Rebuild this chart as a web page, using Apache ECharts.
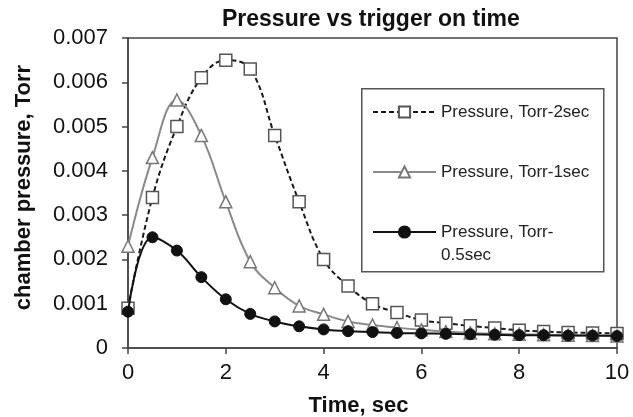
<!DOCTYPE html>
<html>
<head>
<meta charset="utf-8">
<script src="https://cdn.jsdelivr.net/npm/echarts@6/dist/echarts.min.js"></script>
<style>html,body{margin:0;padding:0;background:#fff;}#c{width:633px;height:417px;}</style>
</head>
<body>
<div id="c"></div>
<script>
var times = [0,0.5,1,1.5,2,2.5,3,3.5,4,4.5,5,5.5,6,6.5,7,7.5,8,8.5,9,9.5,10];
var p2sec = [0.0009,0.0034,0.0050,0.0061,0.0065,0.0063,0.0048,0.0033,0.0020,0.0014,0.0010,0.0008,0.00063,0.00056,0.00050,0.00045,0.00040,0.00037,0.00035,0.00034,0.00033];
var p1sec = [0.0023,0.0043,0.0056,0.0048,0.0033,0.00195,0.00136,0.00095,0.00076,0.00060,0.00052,0.00046,0.00041,0.00037,0.00034,0.00032,0.00031,0.00030,0.00029,0.00028,0.00027];
var p05sec = [0.00082,0.0025,0.0022,0.0016,0.0011,0.00077,0.00060,0.00049,0.00042,0.00038,0.00036,0.00034,0.00033,0.00032,0.00031,0.00030,0.00029,0.00029,0.00028,0.00028,0.00027];
var names = ['Pressure, Torr-2sec','Pressure, Torr-1sec','Pressure, Torr-0.5sec'];
var legendTexts = ['Pressure, Torr-2sec','Pressure, Torr-1sec','Pressure, Torr-\n0.5sec'];

function pairs(vals){ return times.map(function(t,i){ return [t, vals[i]]; }); }

var chart = echarts.init(document.getElementById('c'), null, {renderer:'canvas'});
var F = 'Liberation Sans, Arial, sans-serif';
chart.setOption({
  animation: false,
  backgroundColor: '#fff',
  title: {
    text: 'Pressure vs trigger on time',
    left: 222, top: 8, padding: 0,
    textStyle: {fontFamily: F, fontSize: 23, fontWeight: 'bold', color: '#111'}
  },
  grid: {left: 128, right: 16, top: 38, bottom: 69, show: true, borderColor: '#444', borderWidth: 1.5, outerBoundsMode: 'none'},
  graphic: [{
    type: 'rect', left: 361, top: 88, z: 50,
    shape: {width: 242, height: 183},
    style: {fill: '#fff', stroke: '#555', lineWidth: 1.5}
  }],
  legend: {
    orient: 'vertical', left: 372, top: 77.5, padding: 0, z: 60,
    itemWidth: 63, itemHeight: 14, itemGap: -9,
    data: names,
    formatter: function(n){
      var t = legendTexts[names.indexOf(n)];
      return t.indexOf('\n') >= 0 ? ' \n' + t : ' \n' + t + '\n ';
    },
    textStyle: {fontFamily: F, fontSize: 17, lineHeight: 23, color: '#222'}
  },
  xAxis: {
    type: 'value', min: 0, max: 10, interval: 2,
    name: 'Time, sec', nameLocation: 'middle', nameGap: 47,
    nameTextStyle: {fontFamily: F, fontSize: 22, fontWeight: 'bold', color: '#111', padding: [0,28,0,0]},
    axisLine: {show: true, lineStyle: {color: '#444', width: 1.5}},
    axisTick: {show: true, inside: false, length: 6, lineStyle: {color: '#444', width: 1.5}},
    axisLabel: {fontFamily: F, fontSize: 22, color: '#111', margin: 14},
    splitLine: {show: false}
  },
  yAxis: {
    type: 'value', min: 0, max: 0.007, interval: 0.001,
    name: 'chamber pressure, Torr', nameLocation: 'middle', nameGap: 93,
    nameTextStyle: {fontFamily: F, fontSize: 22, fontWeight: 'bold', color: '#111', padding: [0,0,0,11]},
    axisLine: {show: true, lineStyle: {color: '#444', width: 1.5}},
    axisTick: {show: true, inside: false, length: 6, lineStyle: {color: '#444', width: 1.5}},
    axisLabel: {fontFamily: F, fontSize: 22, color: '#111', margin: 20,
      formatter: function(v){ return v === 0 ? '0' : v.toFixed(3); }},
    splitLine: {show: false}
  },
  series: [
    {
      name: names[0], type: 'line', data: pairs(p2sec), smooth: 0.4,
      symbol: 'rect', symbolSize: 12, z: 3,
      lineStyle: {color: '#1a1a1a', width: 2, type: [5,3]},
      itemStyle: {color: '#fff', borderColor: '#555', borderWidth: 1.5}
    },
    {
      name: names[1], type: 'line', data: pairs(p1sec), smooth: 0.4,
      symbol: 'triangle', symbolSize: 12, z: 4,
      lineStyle: {color: '#8a8a8a', width: 2},
      itemStyle: {color: '#fff', borderColor: '#777', borderWidth: 1.5}
    },
    {
      name: names[2], type: 'line', data: pairs(p05sec), smooth: 0.4,
      symbol: 'circle', symbolSize: 11, z: 5,
      lineStyle: {color: '#111', width: 2},
      itemStyle: {color: '#111', borderColor: '#111', borderWidth: 1}
    }
  ]
});
</script>
</body>
</html>
